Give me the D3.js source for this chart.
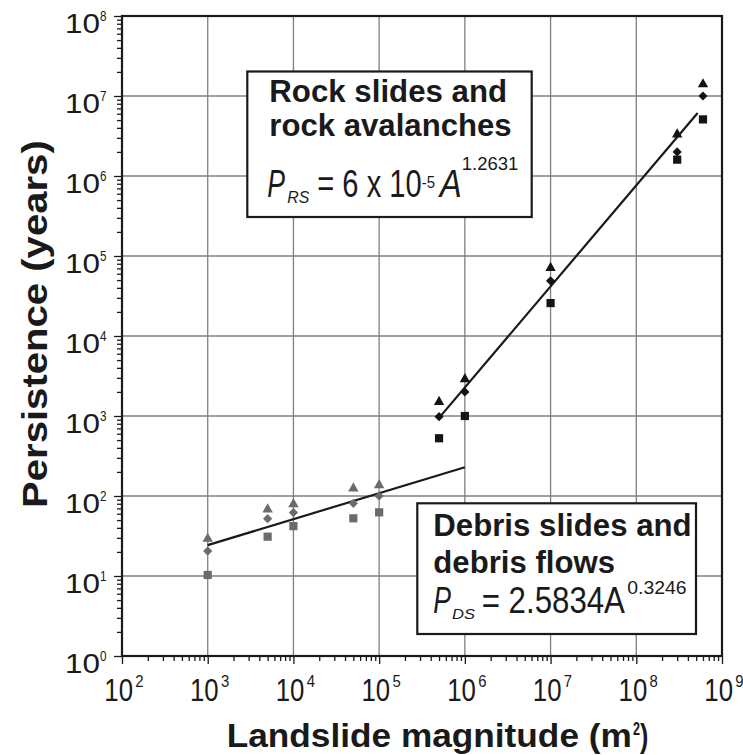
<!DOCTYPE html>
<html>
<head>
<meta charset="utf-8">
<script src="https://cdn.jsdelivr.net/npm/d3@7"></script>
<style>
  body { margin: 0; background: #fff; }
  svg { display: block; font-family: "Liberation Sans", Arial, Helvetica, sans-serif; }
</style>
</head>
<body>
<svg id="chart" width="743" height="755"></svg>
<script>
// Landslide magnitude (m^2) for each class of event
const magnitudeDebris = [1e3, 5e3, 1e4, 5e4, 1e5];
const magnitudeRock = [5e5, 1e6, 1e7, 3e8, 6e8];

// Persistence (years): upper, middle and lower estimates
const debrisUpper = [30, 70, 81, 128, 140];
const debrisMiddle = [20.5, 52, 62, 81, 100];
const debrisLower = [10.3, 31, 42, 52.6, 62.5];
const rockUpper = [1540, 2960, 73000, 3.4e6, 1.44e7];
const rockMiddle = [980, 2000, 49000, 2.0e6, 1.0e7];
const rockLower = [527, 1000, 25800, 1.6e6, 5.1e6];

// Power-law fits P = c * A^b
const fitNames = ["rock", "debris"];
const fitCoefficients = [6e-5, 2.5834];
const fitExponents = [1.2631, 0.3246];
const fitStart = [5e5, 1e3];
const fitEnd = [5.2e8, 1e6];

// Decade exponents used for ticks and grid
const xExponents = [2, 3, 4, 5, 6, 7, 8, 9];
const yExponents = [0, 1, 2, 3, 4, 5, 6, 7, 8];

const svg = d3.select("#chart");
const plotLeft = 122, plotRight = 722, plotTop = 16, plotBottom = 656;

const x = d3.scaleLog().domain([1e2, 1e9]).range([plotLeft, plotRight]);
const y = d3.scaleLog().domain([1, 1e8]).range([plotBottom, plotTop]);

const ink = "#1a1a1a";
const debrisColor = "#6b6b6b";
const rockColor = "#141414";

// Text piece stretched horizontally to span x0..x1
function piece(parent, str, x0, x1, baseline, size, opts = {}) {
  const t = parent.append("text")
    .attr("x", 0).attr("y", 0)
    .attr("font-size", size)
    .attr("font-weight", opts.bold ? "bold" : "normal")
    .attr("font-style", opts.italic ? "italic" : "normal")
    .attr("fill", opts.fill || ink)
    .text(str);
  const w = t.node().getComputedTextLength();
  const sx = (x1 - x0) / w;
  t.attr("transform", `translate(${x0},${baseline}) scale(${sx},1)`);
  return t;
}

// Minor + major tick values per decade
function logTicks(exps) {
  const v = [];
  exps.forEach((e, i) => {
    v.push(Math.pow(10, e));
    if (i < exps.length - 1) for (let k = 2; k <= 9; k++) v.push(k * Math.pow(10, e));
  });
  return v;
}
const isMajor = v => Math.abs(Math.log10(v) - Math.round(Math.log10(v))) < 1e-9;

// Grid
const grid = svg.append("g").attr("stroke", "#808080").attr("stroke-width", 1.3);
grid.selectAll("line.gx").data(xExponents.slice(1, -1)).join("line")
  .attr("x1", d => x(Math.pow(10, d))).attr("x2", d => x(Math.pow(10, d)))
  .attr("y1", plotTop).attr("y2", plotBottom);
grid.selectAll("line.gy").data(yExponents.slice(1, -1)).join("line")
  .attr("y1", d => y(Math.pow(10, d))).attr("y2", d => y(Math.pow(10, d)))
  .attr("x1", plotLeft).attr("x2", plotRight);

// Axes
const xAxis = d3.axisBottom(x).tickValues(logTicks(xExponents)).tickFormat("").tickSize(8).tickSizeOuter(0);
const yAxis = d3.axisLeft(y).tickValues(logTicks(yExponents)).tickFormat("").tickSize(8).tickSizeOuter(0);

const gx = svg.append("g").attr("transform", `translate(0,${plotBottom})`).call(xAxis);
const gy = svg.append("g").attr("transform", `translate(${plotLeft},0)`).call(yAxis);
gx.select(".domain").remove();
gy.select(".domain").remove();
gx.selectAll(".tick line").attr("stroke", ink).attr("stroke-width", 1.3)
  .attr("y2", d => isMajor(d) ? 8 : 5);
gy.selectAll(".tick line").attr("stroke", ink).attr("stroke-width", 1.3)
  .attr("x2", d => isMajor(d) ? -8 : -5);

// Frame
svg.append("rect").attr("x", plotLeft).attr("y", plotTop)
  .attr("width", plotRight - plotLeft).attr("height", plotBottom - plotTop)
  .attr("fill", "none").attr("stroke", ink).attr("stroke-width", 2.2);

// Tick labels
const labels = svg.append("g");
yExponents.forEach(e => {
  const ty = y(Math.pow(10, e));
  piece(labels, "10", 65, 100, ty + 17, 28);
  piece(labels, String(e), 100, 106.5, ty + 4.8, 15);
});
xExponents.forEach(e => {
  const tx = x(Math.pow(10, e));
  piece(labels, "10", tx - 17.7, tx + 11, 701, 31);
  piece(labels, String(e), tx + 13.3, tx + 21.6, 686.7, 16);
});

// Axis titles
piece(labels, "Landslide magnitude (m", 226.7, 632, 746.7, 34, { bold: true });
piece(labels, "2", 633, 640, 735, 18, { bold: true });
piece(labels, ")", 640, 648.3, 746.7, 34, { bold: true });

const yTitle = labels.append("g").attr("transform", "translate(47,508) rotate(-90)");
piece(yTitle, "Persistence (years)", 0, 368, 0, 35, { bold: true });

// Fit lines
const fitLine = d3.line().x(d => x(d[0])).y(d => y(d[1]));
fitNames.forEach((name, i) => {
  const pts = [fitStart[i], fitEnd[i]].map(a => [a, fitCoefficients[i] * Math.pow(a, fitExponents[i])]);
  svg.append("path").attr("class", "fit-" + name)
    .attr("d", fitLine(pts)).attr("fill", "none")
    .attr("stroke", ink).attr("stroke-width", 2.2);
});

// Marker shapes
const triangle = "M0,-5.2L5.2,4L-5.2,4Z";
const diamond = "M0,-4.6L4.6,0L0,4.6L-4.6,0Z";
const square = "M-4.1,-4.1H4.1V4.1H-4.1Z";

function markers(xs, ys, shape, color) {
  svg.append("g").selectAll("path").data(xs.map((a, i) => [a, ys[i]])).join("path")
    .attr("d", shape).attr("fill", color)
    .attr("transform", d => `translate(${x(d[0])},${y(d[1])})`);
}
markers(magnitudeDebris, debrisUpper, triangle, debrisColor);
markers(magnitudeDebris, debrisMiddle, diamond, debrisColor);
markers(magnitudeDebris, debrisLower, square, debrisColor);
markers(magnitudeRock, rockUpper, triangle, rockColor);
markers(magnitudeRock, rockMiddle, diamond, rockColor);
markers(magnitudeRock, rockLower, square, rockColor);

// Annotation boxes
const boxes = svg.append("g");
boxes.append("rect").attr("x", 247.3).attr("y", 71.5).attr("width", 284.4).attr("height", 145.5)
  .attr("fill", "#fff").attr("stroke", ink).attr("stroke-width", 2.2);
piece(boxes, "Rock slides and", 269.3, 507.3, 101.5, 31, { bold: true });
piece(boxes, "rock avalanches", 269.3, 511.7, 136, 31, { bold: true });
piece(boxes, "P", 267.3, 285, 197.3, 38, { italic: true });
piece(boxes, "RS", 287.3, 309.3, 202.7, 17, { italic: true });
piece(boxes, "= 6 x 10", 317.3, 421.7, 197.3, 38);
piece(boxes, "-5", 421.7, 435, 187.7, 16);
piece(boxes, "A", 439.7, 461.7, 197.3, 38, { italic: true });
piece(boxes, "1.2631", 461.7, 518.3, 170, 18.6);

boxes.append("rect").attr("x", 417.3).attr("y", 503.3).attr("width", 278.7).attr("height", 130.7)
  .attr("fill", "#fff").attr("stroke", ink).attr("stroke-width", 2.2);
piece(boxes, "Debris slides and", 433.3, 691.7, 536, 31, { bold: true });
piece(boxes, "debris flows", 433.3, 615, 572.7, 31, { bold: true });
piece(boxes, "P", 433.3, 451, 613.3, 36, { italic: true });
piece(boxes, "DS", 452, 475, 619.3, 15, { italic: true });
piece(boxes, "= 2.5834A", 481.7, 625, 613.3, 36);
piece(boxes, "0.3246", 627.3, 686.7, 594, 17.5);
</script>
</body>
</html>
